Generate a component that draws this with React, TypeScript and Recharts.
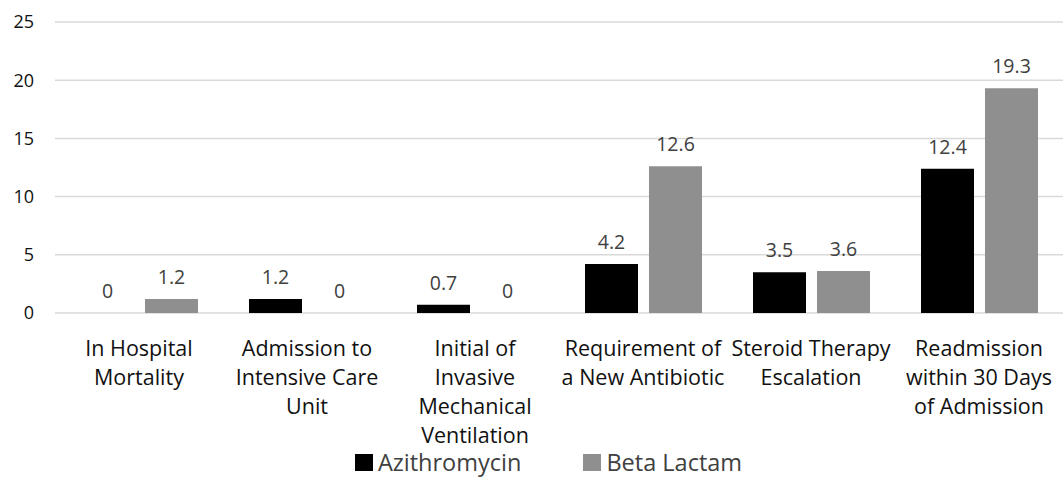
import { BarChart, Bar, XAxis, YAxis, CartesianGrid, Legend, LabelList } from 'recharts';

const categories = [
  'In Hospital Mortality',
  'Admission to Intensive Care Unit',
  'Initial of Invasive Mechanical Ventilation',
  'Requirement of a New Antibiotic',
  'Steroid Therapy Escalation',
  'Readmission within 30 Days of Admission',
];

// how each category label breaks into lines under the axis
const categoryLines = [
  ['In Hospital', 'Mortality'],
  ['Admission to', 'Intensive Care', 'Unit'],
  ['Initial of', 'Invasive', 'Mechanical', 'Ventilation'],
  ['Requirement of', 'a New Antibiotic'],
  ['Steroid Therapy', 'Escalation'],
  ['Readmission', 'within 30 Days', 'of Admission'],
];

const azithromycin = [0, 1.2, 0.7, 4.2, 3.5, 12.4];
const betaLactam = [1.2, 0, 0, 12.6, 3.6, 19.3];

const yTicks = [0, 5, 10, 15, 20, 25];

const data = categories.map((name, i) => ({
  name,
  azithromycin: azithromycin[i],
  betaLactam: betaLactam[i],
}));

const FONT = '"Open Sans", sans-serif';

const CategoryTick = (props: any) => {
  const { x, y, index } = props;
  const lines = categoryLines[index] || [];
  return (
    <g transform={`translate(${x},${y})`}>
      {lines.map((line, i) => (
        <text
          key={i}
          x={0}
          y={41 + i * 29}
          textAnchor="middle"
          fill="#111"
          fontSize={21.5}
          fontFamily={FONT}
        >
          {line}
        </text>
      ))}
    </g>
  );
};

// draws the value above each bar, zero included
const ValueLabel = (props: any) => {
  const { x, y, width, value } = props;
  return (
    <text
      x={x + width / 2}
      y={y - 15}
      textAnchor="middle"
      fill="#404040"
      fontSize={19.5}
      fontFamily={FONT}
    >
      {value}
    </text>
  );
};

const LegendContent = () => (
  <div
    style={{
      display: 'flex',
      justifyContent: 'center',
      alignItems: 'center',
      gap: 62,
      fontFamily: FONT,
      fontSize: 23.5,
      color: '#404040',
      marginLeft: 34,
    }}
  >
    <span style={{ display: 'flex', alignItems: 'center' }}>
      <span style={{ width: 18, height: 17, background: '#000', marginRight: 5 }} />
      Azithromycin
    </span>
    <span style={{ display: 'flex', alignItems: 'center' }}>
      <span style={{ width: 18, height: 17, background: '#8f8f8f', marginRight: 5 }} />
      Beta Lactam
    </span>
  </div>
);

export default function App() {
  return (
    <div style={{ position: 'absolute', left: 0, top: 0, background: '#fff' }}>
      <BarChart
        width={1063}
        height={486}
        data={data}
        margin={{ top: 22, right: 0, left: 0, bottom: 6 }}
        barSize={53}
        barGap={11}
      >
        <CartesianGrid vertical={false} stroke="#d9d9d9" strokeWidth={1.5} />
        <XAxis
          dataKey="name"
          axisLine={false}
          tickLine={false}
          tickSize={0}
          height={133}
          interval={0}
          tick={<CategoryTick />}
        />
        <YAxis
          domain={[0, 25]}
          ticks={yTicks}
          width={55}
          axisLine={false}
          tickLine={false}
          tickSize={0}
          tickMargin={21}
          tick={{ fontSize: 18, fill: '#111', fontFamily: FONT }}
        />
        <Legend verticalAlign="bottom" height={34} content={<LegendContent />} />
        <Bar dataKey="azithromycin" fill="#000000" minPointSize={0.01} isAnimationActive={false}>
          <LabelList dataKey="azithromycin" content={<ValueLabel />} />
        </Bar>
        <Bar dataKey="betaLactam" fill="#8f8f8f" minPointSize={0.01} isAnimationActive={false}>
          <LabelList dataKey="betaLactam" content={<ValueLabel />} />
        </Bar>
      </BarChart>
    </div>
  );
}
